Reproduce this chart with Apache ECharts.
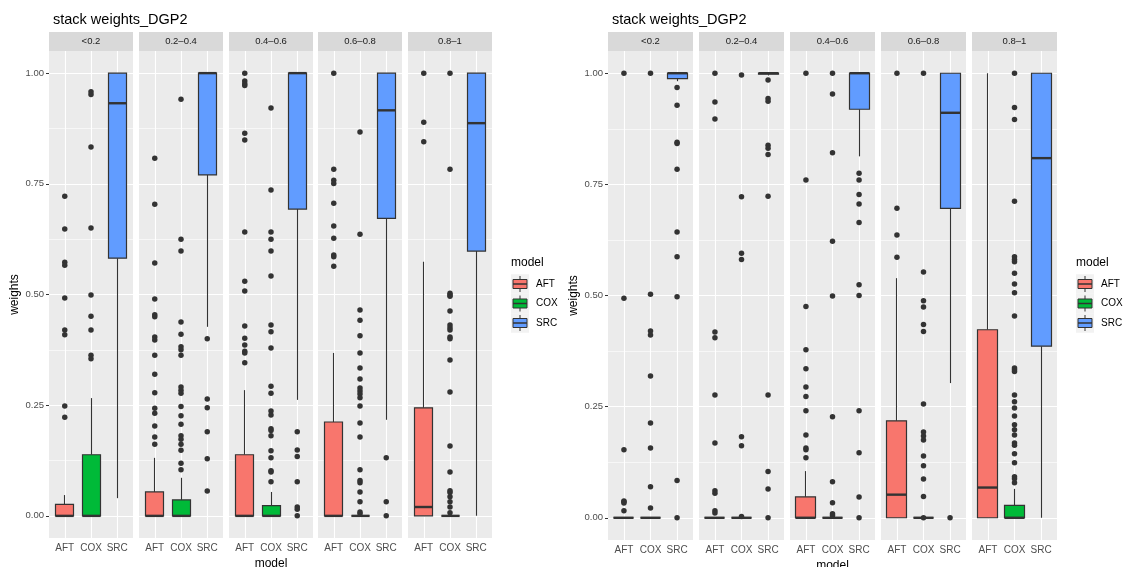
<!DOCTYPE html>
<html>
<head>
<meta charset="utf-8">
<script src="https://cdn.jsdelivr.net/npm/echarts@6/dist/echarts.min.js"></script>
<style>
html,body{margin:0;padding:0;background:#fff;}
#chart{width:1125px;height:567px;}
</style>
</head>
<body>
<div id="chart"></div>
<script>
const CHART_TITLE = 'stack weights_DGP2';
const MODELS = ['AFT', 'COX', 'SRC'];
const FACETS = ['<0.2', '0.2–0.4', '0.4–0.6', '0.6–0.8', '0.8–1'];
const Y_TICKS = [0, 0.25, 0.5, 0.75, 1];
const Y_MINOR = [0.125, 0.375, 0.625, 0.875];
const MODEL_COLORS = ['#F8766D', '#00BA38', '#619CFF'];

// box stats per facet, per model: [lower whisker, Q1, median, Q3, upper whisker]
const leftBoxStats = [
  [[0, 0, 0, 0.026, 0.047], [0, 0, 0, 0.138, 0.266], [0.04, 0.582, 0.932, 1, 1]],
  [[0, 0, 0, 0.054, 0.131], [0, 0, 0, 0.036, 0.086], [0.427, 0.77, 1, 1, 1]],
  [[0, 0, 0, 0.138, 0.284], [0, 0, 0, 0.023, 0.054], [0.262, 0.693, 1, 1, 1]],
  [[0, 0, 0, 0.212, 0.368], [0, 0, 0, 0, 0.003], [0.217, 0.672, 0.916, 1, 1]],
  [[0, 0, 0.02, 0.244, 0.574], [0, 0, 0, 0, 0.003], [0, 0.598, 0.887, 1, 1]]
];
const leftOutliers = [
  [[0.722, 0.648, 0.573, 0.566, 0.492, 0.42, 0.409, 0.248, 0.223],
   [0.958, 0.952, 0.833, 0.65, 0.499, 0.451, 0.42, 0.363, 0.355],
   []],
  [[0.808, 0.704, 0.571, 0.49, 0.454, 0.45, 0.404, 0.397, 0.363, 0.32, 0.278, 0.243, 0.232, 0.203, 0.178, 0.162],
   [0.941, 0.625, 0.598, 0.438, 0.41, 0.382, 0.375, 0.363, 0.291, 0.284, 0.277, 0.247, 0.226, 0.207, 0.181, 0.173, 0.162, 0.148, 0.119, 0.104],
   [0.4, 0.264, 0.244, 0.19, 0.129, 0.056]],
  [[1, 0.982, 0.976, 0.972, 0.864, 0.849, 0.641, 0.53, 0.508, 0.429, 0.401, 0.386, 0.372, 0.368, 0.346],
   [0.921, 0.736, 0.641, 0.625, 0.598, 0.542, 0.431, 0.416, 0.379, 0.293, 0.277, 0.237, 0.228, 0.197, 0.193, 0.181, 0.147, 0.131, 0.102, 0.099, 0.077],
   [0.19, 0.149, 0.134, 0.077, 0.02, 0.015, 0]],
  [[1, 0.783, 0.758, 0.751, 0.706, 0.655, 0.627, 0.589, 0.585, 0.564],
   [0.867, 0.636, 0.465, 0.442, 0.407, 0.368, 0.334, 0.309, 0.289, 0.282, 0.275, 0.267, 0.248, 0.21, 0.178, 0.104, 0.08, 0.075, 0.054, 0.032, 0.009, 0.005],
   [0.131, 0.032, 0]],
  [[1, 0.889, 0.845],
   [1, 0.783, 0.503, 0.499, 0.496, 0.463, 0.431, 0.425, 0.42, 0.404, 0.4, 0.352, 0.28, 0.158, 0.099, 0.057, 0.053, 0.043, 0.032, 0.02, 0.007],
   []]
];

const rightBoxStats = [
  [[0, 0, 0, 0, 0], [0, 0, 0, 0, 0], [0.982, 0.988, 1, 1, 1]],
  [[0, 0, 0, 0, 0], [0, 0, 0, 0, 0], [0.995, 0.998, 1, 1, 1]],
  [[0, 0, 0, 0.047, 0.105], [0, 0, 0, 0, 0], [0.813, 0.919, 1, 1, 1]],
  [[0, 0, 0.052, 0.218, 0.539], [0, 0, 0, 0, 0], [0.303, 0.696, 0.911, 1, 1]],
  [[0, 0, 0.068, 0.423, 1], [0, 0, 0, 0.028, 0.065], [0, 0.386, 0.809, 1, 1]]
];
const rightOutliers = [
  [[1, 0.494, 0.153, 0.038, 0.036, 0.033, 0.016],
   [1, 0.503, 0.42, 0.411, 0.319, 0.213, 0.157, 0.07, 0.022],
   [0.968, 0.928, 0.845, 0.842, 0.784, 0.643, 0.587, 0.497, 0.084, 0]],
  [[1, 0.935, 0.897, 0.418, 0.405, 0.276, 0.168, 0.061, 0.055, 0.016, 0.011],
   [0.996, 0.722, 0.595, 0.581, 0.182, 0.162, 0.003],
   [0.985, 0.943, 0.937, 0.838, 0.831, 0.817, 0.723, 0.276, 0.104, 0.065, 0]],
  [[1, 0.76, 0.475, 0.378, 0.335, 0.294, 0.273, 0.241, 0.186, 0.157, 0.153, 0.135],
   [1, 0.953, 0.821, 0.622, 0.499, 0.227, 0.081, 0.034, 0.009, 0.005],
   [0.775, 0.76, 0.727, 0.706, 0.664, 0.524, 0.5, 0.241, 0.146, 0.047, 0]],
  [[1, 0.696, 0.636, 0.586],
   [1, 0.553, 0.488, 0.474, 0.435, 0.419, 0.256, 0.193, 0.184, 0.175, 0.139, 0.117, 0.087, 0.048, 0],
   [0]],
  [[],
   [1, 0.923, 0.896, 0.712, 0.587, 0.581, 0.576, 0.55, 0.526, 0.506, 0.454, 0.337, 0.333, 0.329, 0.276, 0.261, 0.247, 0.229, 0.209, 0.198, 0.186, 0.168, 0.163, 0.144, 0.124, 0.092, 0.088, 0.079],
   []]
];

// ---------- layout ----------
const FONT = 'Liberation Sans, Arial, sans-serif';
const panels = [
  { left0: 49, step: 89.75, w: 84, top: 51, h: 487, boxes: leftBoxStats, outs: leftOutliers, legendX: 511 },
  { left0: 608, step: 91, w: 85, top: 51, h: 489, boxes: rightBoxStats, outs: rightOutliers, legendX: 1076 }
];
const STRIP_TOP = 32, STRIP_H = 19;
const X_MIN = 0.4, X_MAX = 3.6, Y_MIN = -0.05, Y_MAX = 1.05;

const grids = [], xAxes = [], yAxes = [], series = [], graphics = [], titles = [];

function crisp(v) { return Math.round(v - 0.5) + 0.5; }

function renderBox(params, api) {
  const x = api.value(0);
  const mn = api.value(1), q1 = api.value(2), md = api.value(3), q3 = api.value(4), mx = api.value(5);
  const bw = api.size([0.76, 0])[0];
  const pMin = api.coord([x, mn]), pQ1 = api.coord([x, q1]), pMd = api.coord([x, md]);
  const pQ3 = api.coord([x, q3]), pMax = api.coord([x, mx]);
  const color = MODEL_COLORS[Math.round(x) - 1];
  const cx = crisp(pMd[0]);
  const x0 = Math.round(cx - bw / 2) + 0.5, x1 = Math.round(cx + bw / 2) - 0.5;
  return {
    type: 'group',
    children: [
      { type: 'line', shape: { x1: cx, y1: pMin[1], x2: cx, y2: pQ1[1] }, style: { stroke: '#333', lineWidth: 1.1 } },
      { type: 'line', shape: { x1: cx, y1: pQ3[1], x2: cx, y2: pMax[1] }, style: { stroke: '#333', lineWidth: 1.1 } },
      { type: 'rect', shape: { x: x0, y: pQ3[1], width: x1 - x0, height: pQ1[1] - pQ3[1] }, style: { fill: color, stroke: '#333', lineWidth: 1.2 } },
      { type: 'line', shape: { x1: x0, y1: pMd[1], x2: x1, y2: pMd[1] }, style: { stroke: '#333', lineWidth: 2.4 } }
    ]
  };
}

panels.forEach((P, c) => {
  titles.push({
    text: CHART_TITLE, left: P.left0 - 1, top: 7,
    textStyle: { fontSize: 14.5, fontWeight: 'normal', color: '#000', fontFamily: FONT }
  });
  FACETS.forEach((fname, f) => {
    const g = grids.length;
    const L = Math.round(P.left0 + f * P.step);
    grids.push({ left: L, top: P.top, width: P.w, height: P.h, show: true, backgroundColor: '#EBEBEB', borderWidth: 0, containLabel: false, outerBoundsMode: 'none' });
    xAxes.push({
      gridIndex: g, type: 'value', min: X_MIN, max: X_MAX,
      splitLine: { show: false }, axisLine: { show: false },
      axisTick: { show: true, customValues: [1, 2, 3], length: 3, lineStyle: { color: '#333', width: 1 } },
      axisLabel: { show: true, customValues: [1, 2, 3], formatter: v => MODELS[Math.round(v) - 1], color: '#4D4D4D', fontSize: 10, margin: 5, fontFamily: FONT },
      name: f === 2 ? 'model' : '', nameLocation: 'middle', nameGap: 18,
      nameTextStyle: { color: '#000', fontSize: 12, fontFamily: FONT }
    });
    yAxes.push({
      gridIndex: g, type: 'value', min: Y_MIN, max: Y_MAX,
      splitLine: { show: false }, axisLine: { show: false },
      axisTick: { show: f === 0, customValues: Y_TICKS, length: 3, lineStyle: { color: '#333', width: 1 } },
      axisLabel: { show: f === 0, customValues: Y_TICKS, formatter: v => v.toFixed(2), color: '#4D4D4D', fontSize: 9.5, margin: 5, fontFamily: FONT },
      name: f === 0 ? 'weights' : '', nameLocation: 'middle', nameGap: 28, nameRotate: 90,
      nameTextStyle: { color: '#000', fontSize: 12, fontFamily: FONT }
    });
    // panel grid lines (drawn beneath the boxes and points)
    series.push({
      type: 'scatter', xAxisIndex: g, yAxisIndex: g, data: [], z: 1, silent: true,
      markLine: {
        z: 1, zlevel: 0,
        silent: true, symbol: 'none', animation: false, label: { show: false },
        emphasis: { disabled: true },
        data: [
          ...Y_MINOR.map(v => [{ coord: [X_MIN, v], lineStyle: { color: '#FFFFFF', width: 0.6, type: 'solid' } }, { coord: [X_MAX, v] }]),
          ...Y_TICKS.map(v => [{ coord: [X_MIN, v], lineStyle: { color: '#FFFFFF', width: 1.1, type: 'solid' } }, { coord: [X_MAX, v] }]),
          ...MODELS.map((m, i) => [{ coord: [i + 1, Y_MIN], lineStyle: { color: '#FFFFFF', width: 1.1, type: 'solid' } }, { coord: [i + 1, Y_MAX] }])
        ]
      }
    });
    // boxes
    series.push({
      type: 'custom', xAxisIndex: g, yAxisIndex: g, z: 3, silent: true,
      encode: { x: 0, y: [1, 2, 3, 4, 5] },
      renderItem: renderBox,
      data: MODELS.map((m, i) => [i + 1, ...P.boxes[f][i]])
    });
    // outliers
    const pts = [];
    MODELS.forEach((m, i) => P.outs[f][i].forEach(v => pts.push([i + 1, v])));
    series.push({
      type: 'scatter', xAxisIndex: g, yAxisIndex: g, z: 4, silent: true,
      symbol: 'circle', symbolSize: 5.5,
      itemStyle: { color: '#333333', opacity: 1, borderWidth: 0 },
      data: pts
    });
    // strip
    graphics.push({ type: 'rect', left: L, top: STRIP_TOP, shape: { width: P.w, height: STRIP_H }, style: { fill: '#D9D9D9' } });
    graphics.push({
      type: 'text', x: L + P.w / 2, y: STRIP_TOP + STRIP_H / 2,
      style: { text: fname, textAlign: 'center', textVerticalAlign: 'middle', fill: '#1A1A1A', fontSize: 9.5, fontFamily: FONT }
    });
  });
  // legend
  const lx = P.legendX;
  graphics.push({ type: 'text', x: lx, y: 263, style: { text: 'model', textAlign: 'left', textVerticalAlign: 'middle', fill: '#000', fontSize: 12, fontFamily: FONT } });
  MODELS.forEach((m, i) => {
    const yc = 284 + i * 19.5;
    graphics.push({ type: 'rect', shape: { x: lx, y: yc - 9.75, width: 18, height: 19.5 }, style: { fill: '#F2F2F2' } });
    graphics.push({ type: 'line', shape: { x1: lx + 9, y1: yc - 8, x2: lx + 9, y2: yc + 8 }, style: { stroke: '#333', lineWidth: 1 } });
    graphics.push({ type: 'rect', shape: { x: lx + 2, y: yc - 4.5, width: 14, height: 9 }, style: { fill: MODEL_COLORS[i], stroke: '#333', lineWidth: 1 } });
    graphics.push({ type: 'line', shape: { x1: lx + 2, y1: yc, x2: lx + 16, y2: yc }, style: { stroke: '#333', lineWidth: 1.5 } });
    graphics.push({ type: 'text', x: lx + 25, y: yc, style: { text: m, textAlign: 'left', textVerticalAlign: 'middle', fill: '#000', fontSize: 10, fontFamily: FONT } });
  });
});

const chart = echarts.init(document.getElementById('chart'), null, { renderer: 'canvas' });
chart.setOption({
  animation: false,
  backgroundColor: '#FFFFFF',
  textStyle: { fontFamily: FONT },
  title: titles,
  grid: grids,
  xAxis: xAxes,
  yAxis: yAxes,
  series: series,
  graphic: { elements: graphics }
});
</script>
</body>
</html>
